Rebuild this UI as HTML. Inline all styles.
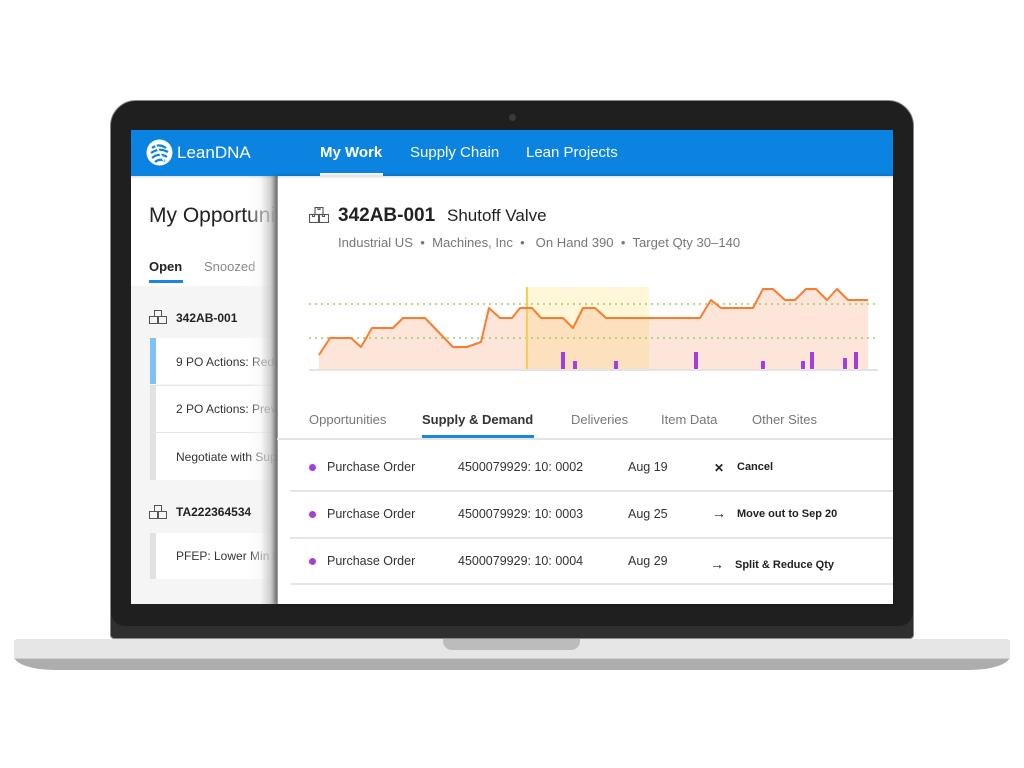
<!DOCTYPE html>
<html><head><meta charset="utf-8">
<style>
*{margin:0;padding:0;box-sizing:border-box}
html,body{width:1024px;height:768px;background:#fff;overflow:hidden;font-family:"Liberation Sans",Arial,sans-serif}
.a{position:absolute}
.t{position:absolute;white-space:nowrap;line-height:1}
</style></head><body>
<!-- laptop base -->
<div class="a" style="left:14px;top:639px;width:996px;height:31px;background:#adadad;border-radius:4px 4px 40px 40px/4px 4px 14px 14px"></div>
<div class="a" style="left:14px;top:639px;width:996px;height:20px;background:#e6e6e6;border-radius:4px 4px 0 0;border-bottom:1px solid #cfcfcf"></div>
<div class="a" style="left:443px;top:639px;width:137px;height:11px;background:#bcbcbc;border-radius:0 0 9px 9px"></div>
<!-- bezel -->
<div class="a" style="left:110px;top:100px;width:804px;height:539px;background:#2f2f2f;border-radius:26px 26px 4px 4px;border:1px solid #8a8a8a"></div>
<div class="a" style="left:111px;top:101px;width:802px;height:525px;background:#1f1f1f;border-radius:25px 25px 14px 14px"></div>
<div class="a" style="left:509px;top:114px;width:7px;height:7px;border-radius:50%;background:#3a3a3a"></div>
<!-- screen -->
<div class="a" style="left:131px;top:130px;width:762px;height:474px;background:#fff;overflow:hidden"></div>
<!-- header -->
<div class="a" style="left:131px;top:130px;width:762px;height:46px;background:#0a84e0"></div>
<svg class="a" style="left:146px;top:139px" width="27" height="27" viewBox="0 0 27 27">
<circle cx="13.5" cy="13.5" r="13" fill="#fff"/>
<path d="M6 9 Q13 4 20 9 M5 14 Q13 8 22 13 M6 19 Q13 13 21 18 M9 23 Q14 19 19 22" stroke="#0a84e0" stroke-width="2.2" fill="none"/>
<path d="M9 5 L18 22" stroke="#fff" stroke-width="1.6"/>
</svg>
<div class="t" style="left:177px;top:144px;font-size:17px;color:#fff">LeanDNA</div>
<div class="t" style="left:320px;top:145px;font-size:15px;color:#fff;font-weight:bold">My Work</div>
<div class="a" style="left:320px;top:173px;width:63px;height:3px;background:#fff"></div>
<div class="t" style="left:410px;top:145px;font-size:15px;color:#fff">Supply Chain</div>
<div class="t" style="left:526px;top:145px;font-size:15px;color:#fff">Lean Projects</div>
<!-- left panel -->
<div class="a" style="left:131px;top:176px;width:146px;height:428px;background:#f5f5f6;overflow:hidden">
 <div class="a" style="left:0;top:0;width:146px;height:110px;background:#fff"></div>
 <div class="t" style="left:18px;top:29px;font-size:21px;color:#222">My Opportunities</div>
 <div class="t" style="left:18px;top:84px;font-size:13px;color:#222;font-weight:bold">Open</div>
 <div class="t" style="left:73px;top:84px;font-size:13px;color:#888">Snoozed</div>
 <div class="a" style="left:18px;top:104px;width:34px;height:3px;background:#1b86e0"></div>
 <svg class="a" style="left:18px;top:134px" width="18" height="14" viewBox="0 0 18 14"><g fill="none" stroke="#555" stroke-width="1"><rect x="5.5" y="0.5" width="7" height="6"/><rect x="0.5" y="6.5" width="8" height="7"/><rect x="9.5" y="6.5" width="8" height="7"/></g></svg>
 <div class="t" style="left:45px;top:136px;font-size:12px;color:#222;font-weight:bold">342AB-001</div>
 <div class="a" style="left:19px;top:162px;width:130px;height:46px;background:#fff;border-left:6px solid #7dc1f6"></div>
 <div class="t" style="left:45px;top:180px;font-size:12px;color:#333">9 PO Actions: Reduce</div>
 <div class="a" style="left:19px;top:209px;width:130px;height:47px;background:#fff;border-left:6px solid #e2e2e4;border-top:1px solid #e6e6e6"></div>
 <div class="t" style="left:45px;top:227px;font-size:12px;color:#333">2 PO Actions: Prevent</div>
 <div class="a" style="left:19px;top:256px;width:130px;height:48px;background:#fff;border-left:6px solid #e2e2e4;border-top:1px solid #e6e6e6"></div>
 <div class="t" style="left:45px;top:275px;font-size:12px;color:#333">Negotiate with Supplier</div>
 <svg class="a" style="left:18px;top:329px" width="18" height="14" viewBox="0 0 18 14"><g fill="none" stroke="#555" stroke-width="1"><rect x="5.5" y="0.5" width="7" height="6"/><rect x="0.5" y="6.5" width="8" height="7"/><rect x="9.5" y="6.5" width="8" height="7"/></g></svg>
 <div class="t" style="left:45px;top:330px;font-size:12px;color:#222;font-weight:bold">TA222364534</div>
 <div class="a" style="left:19px;top:357px;width:130px;height:46px;background:#fff;border-left:6px solid #e2e2e4"></div>
 <div class="t" style="left:45px;top:374px;font-size:12px;color:#333">PFEP: Lower Min for</div>
 <div class="a" style="left:116px;top:0;width:30px;height:428px;background:linear-gradient(to right,rgba(255,255,255,0) 0%,rgba(245,245,245,0.55) 45%,rgba(200,200,200,0.85) 78%,rgba(140,140,140,1) 100%)"></div>
</div>
<!-- main panel -->
<div class="a" style="left:277px;top:176px;width:616px;height:428px;background:#fff;border-left:1px solid #9a9a9a;box-shadow:-2px 0 4px rgba(0,0,0,0.25)"></div>
<div class="a" style="left:131px;top:176px;width:762px;height:3px;background:linear-gradient(rgba(0,0,0,0.12),rgba(0,0,0,0))"></div>
<svg class="a" style="left:309px;top:207px" width="20" height="16" viewBox="0 0 20 16"><g fill="none" stroke="#555" stroke-width="1.1"><rect x="6" y="0.5" width="8" height="7"/><rect x="0.5" y="7.5" width="9" height="8"/><rect x="10.5" y="7.5" width="9" height="8"/><path d="M9 0.5v2h2v-2M3.5 7.5v2h2v-2M13.5 7.5v2h2v-2"/></g></svg>
<div class="t" style="left:338px;top:206px;font-size:19px;color:#222;font-weight:bold">342AB-001</div>
<div class="t" style="left:447px;top:207px;font-size:17px;color:#222">Shutoff Valve</div>
<div class="t" style="left:338px;top:236px;font-size:13.1px;color:#777">Industrial US &nbsp;•&nbsp; Machines, Inc &nbsp;•&nbsp;&nbsp; On Hand 390 &nbsp;•&nbsp; Target Qty 30–140</div>
<!-- chart -->
<svg class="a" style="left:0;top:0" width="1024" height="768" viewBox="0 0 1024 768">
<defs><clipPath id="band"><rect x="527" y="280" width="122" height="90"/></clipPath></defs>
<rect x="527" y="287" width="122" height="82" fill="#fff7d8"/>
<polygon points="319,355 330,338 351,338 361,347 372,328 393,328 403,318 425,318 453,347 467,347 481,342 489,308 500,318 512,318 520,308 532,308 541,318 563,318 573,328 583,308 595,308 606,318 700,318 711,300 721,308 753,308 763,289 773,289 785,300 795,300 806,289 816,289 827,300 837,289 848,300 868,300 868,369 319,369" fill="#fde5da"/>
<polygon clip-path="url(#band)" points="319,355 330,338 351,338 361,347 372,328 393,328 403,318 425,318 453,347 467,347 481,342 489,308 500,318 512,318 520,308 532,308 541,318 563,318 573,328 583,308 595,308 606,318 700,318 711,300 721,308 753,308 763,289 773,289 785,300 795,300 806,289 816,289 827,300 837,289 848,300 868,300 868,369 319,369" fill="#fde0bd"/>
<line x1="309" y1="304" x2="878" y2="304" stroke="#9fcd6a" stroke-width="1.5" stroke-dasharray="2,4"/>
<line x1="309" y1="338" x2="878" y2="338" stroke="#9fcd6a" stroke-width="1.5" stroke-dasharray="2,4"/>
<line x1="527" y1="287" x2="527" y2="369" stroke="#f7cf4e" stroke-width="2"/>
<polyline points="319,355 330,338 351,338 361,347 372,328 393,328 403,318 425,318 453,347 467,347 481,342 489,308 500,318 512,318 520,308 532,308 541,318 563,318 573,328 583,308 595,308 606,318 700,318 711,300 721,308 753,308 763,289 773,289 785,300 795,300 806,289 816,289 827,300 837,289 848,300 868,300" fill="none" stroke="#fb7c2e" stroke-width="2" stroke-linejoin="round"/>
<g fill="#a63fd9">
<rect x="561" y="352" width="4" height="17"/><rect x="573" y="361" width="4" height="8"/>
<rect x="614" y="361" width="4" height="8"/><rect x="694" y="352" width="4" height="17"/>
<rect x="761" y="361" width="4" height="8"/><rect x="801" y="361" width="4" height="8"/>
<rect x="810" y="352" width="4" height="17"/><rect x="843" y="358" width="4" height="11"/>
<rect x="854" y="352" width="4" height="17"/>
</g>
<rect x="309" y="369" width="569" height="2" fill="#e3e3e3"/>
</svg>
<!-- tabs -->
<div class="t" style="left:309px;top:413px;font-size:13px;color:#777">Opportunities</div>
<div class="t" style="left:422px;top:413px;font-size:13px;color:#333;font-weight:bold">Supply &amp; Demand</div>
<div class="t" style="left:571px;top:413px;font-size:13px;color:#777">Deliveries</div>
<div class="t" style="left:661px;top:413px;font-size:13px;color:#777">Item Data</div>
<div class="t" style="left:752px;top:413px;font-size:13px;color:#777">Other Sites</div>
<div class="a" style="left:277px;top:438px;width:616px;height:2px;background:#e4e4e4"></div>
<div class="a" style="left:422px;top:435px;width:112px;height:3px;background:#1b86e0"></div>
<!-- rows -->
<div class="a" style="left:309px;top:464px;width:7px;height:7px;border-radius:50%;background:#a63fd9"></div>
<div class="t" style="left:327px;top:461px;font-size:12.5px;color:#333">Purchase Order</div>
<div class="t" style="left:458px;top:461px;font-size:12.5px;color:#333">4500079929: 10: 0002</div>
<div class="t" style="left:628px;top:461px;font-size:12.5px;color:#333">Aug 19</div>
<div class="t" style="left:714px;top:462px;font-size:12px;color:#222;font-weight:bold">✕</div>
<div class="t" style="left:737px;top:462px;font-size:11px;color:#222;font-weight:bold">Cancel</div>
<div class="a" style="left:290px;top:490px;width:603px;height:2px;background:#e6e6e6"></div>
<div class="a" style="left:309px;top:511px;width:7px;height:7px;border-radius:50%;background:#a63fd9"></div>
<div class="t" style="left:327px;top:508px;font-size:12.5px;color:#333">Purchase Order</div>
<div class="t" style="left:458px;top:508px;font-size:12.5px;color:#333">4500079929: 10: 0003</div>
<div class="t" style="left:628px;top:508px;font-size:12.5px;color:#333">Aug 25</div>
<div class="t" style="left:712px;top:506px;font-size:14px;color:#222">→</div>
<div class="t" style="left:737px;top:509px;font-size:11px;color:#222;font-weight:bold">Move out to Sep 20</div>
<div class="a" style="left:290px;top:537px;width:603px;height:2px;background:#e6e6e6"></div>
<div class="a" style="left:309px;top:558px;width:7px;height:7px;border-radius:50%;background:#a63fd9"></div>
<div class="t" style="left:327px;top:555px;font-size:12.5px;color:#333">Purchase Order</div>
<div class="t" style="left:458px;top:555px;font-size:12.5px;color:#333">4500079929: 10: 0004</div>
<div class="t" style="left:628px;top:555px;font-size:12.5px;color:#333">Aug 29</div>
<div class="t" style="left:710px;top:557px;font-size:14px;color:#222">→</div>
<div class="t" style="left:735px;top:560px;font-size:11px;color:#222;font-weight:bold">Split &amp; Reduce Qty</div>
<div class="a" style="left:290px;top:583px;width:603px;height:2px;background:#e6e6e6"></div>
</body></html>
